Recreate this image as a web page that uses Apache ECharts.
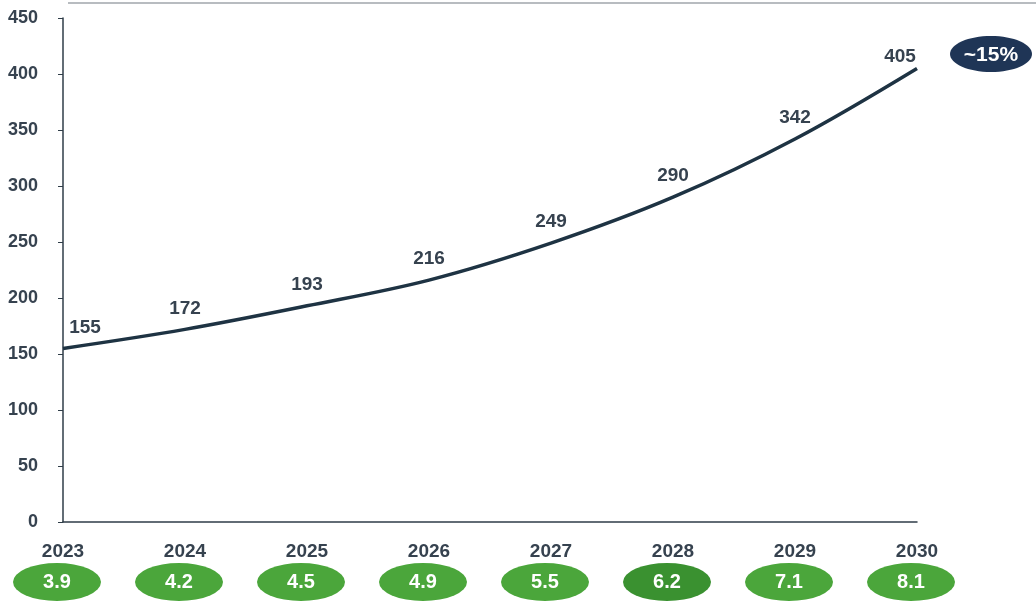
<!DOCTYPE html>
<html>
<head>
<meta charset="utf-8">
<script src="https://cdn.jsdelivr.net/npm/echarts@6/dist/echarts.min.js"></script>
<style>
  html, body { margin: 0; padding: 0; background: #ffffff; }
  #chart { width: 1036px; height: 604px; }
</style>
</head>
<body>
<div id="chart"></div>
<script>
// Market size by year, with yearly values shown in pills under each year
const years = ['2023', '2024', '2025', '2026', '2027', '2028', '2029', '2030'];
const marketValues = [155, 172, 193, 216, 249, 290, 342, 405];
const pillValues = ['3.9', '4.2', '4.5', '4.9', '5.5', '6.2', '7.1', '8.1'];
const growthTag = '~15%';
const yTicks = { min: 0, max: 450, interval: 50 };

const FONT = '"Liberation Sans", Arial, sans-serif';
const TEXT = '#36424f';
const LINE = '#1e3343';
const GREEN = '#4ba63b';
const GREEN_DARK = '#3a9130';
const NAVY = '#1f3556';
const ELLIPSE = 'path://M0 50A100 50 0 1 0 200 50A100 50 0 1 0 0 50Z';

const chart = echarts.init(document.getElementById('chart'), null, { renderer: 'canvas' });

const lineData = marketValues.map((v, i) => {
  const item = { value: v };
  if (i === 0) item.label = { offset: [22, 0] };
  if (i === marketValues.length - 1) item.label = { offset: [-17, 9] };
  return item;
});

// one oval per year in the strip below the axis
const pillData = pillValues.map((v, i) => ({
  value: [i, 0.5],
  itemStyle: { color: i === 5 ? GREEN_DARK : GREEN, opacity: 1 }
}));

chart.setOption({
  animation: false,
  backgroundColor: '#ffffff',
  grid: [
    { left: 63, right: 119, top: 18, bottom: 82, containLabel: false },
    { left: 63, right: 119, top: 563, height: 38, containLabel: false }
  ],
  xAxis: [
    {
      type: 'category',
      data: years,
      boundaryGap: false,
      axisLine: { lineStyle: { color: '#2f3d48', width: 1.5 } },
      axisTick: { show: false },
      axisLabel: {
        color: TEXT, fontFamily: FONT, fontWeight: 'bold', fontSize: 19,
        margin: 20
      },
      splitLine: { show: false }
    },
    {
      type: 'category',
      gridIndex: 1,
      data: years,
      boundaryGap: false,
      show: false
    }
  ],
  yAxis: [
    {
      type: 'value',
      min: yTicks.min,
      max: yTicks.max,
      interval: yTicks.interval,
      axisLine: { show: true, lineStyle: { color: '#2f3d48', width: 1.5 } },
      axisTick: { show: true, inside: false, length: 5, lineStyle: { color: '#2f3d48' } },
      axisLabel: {
        color: TEXT, fontFamily: FONT, fontWeight: 'bold', fontSize: 18, margin: 25
      },
      splitLine: { show: false }
    },
    {
      type: 'value',
      gridIndex: 1,
      min: 0,
      max: 1,
      show: false
    }
  ],
  series: [
    {
      type: 'line',
      data: lineData,
      smooth: 0.35,
      symbol: 'circle',
      symbolSize: 1,
      showSymbol: true,
      itemStyle: { color: 'rgba(0,0,0,0)' },
      lineStyle: { color: LINE, width: 3.5 },
      label: {
        show: true,
        position: 'top',
        distance: 11,
        color: TEXT,
        fontFamily: FONT,
        fontWeight: 'bold',
        fontSize: 19
      },
      z: 3
    },
    {
      type: 'scatter',
      xAxisIndex: 1,
      yAxisIndex: 1,
      data: pillData,
      symbol: ELLIPSE,
      symbolSize: [88, 38],
      symbolOffset: [-6, 0],
      itemStyle: { opacity: 1 },
      label: {
        show: true,
        position: 'inside',
        formatter: (p) => pillValues[p.dataIndex],
        color: '#ffffff',
        fontFamily: FONT,
        fontWeight: 'bold',
        fontSize: 20
      },
      emphasis: { disabled: true }
    }
  ],
  graphic: [
    {
      type: 'line',
      shape: { x1: 68, y1: 3, x2: 1036, y2: 3 },
      style: { stroke: '#a0a6ab', lineWidth: 1.5 }
    },
    {
      type: 'ellipse',
      shape: { cx: 991, cy: 54, rx: 41, ry: 18 },
      style: { fill: NAVY }
    },
    {
      type: 'text',
      style: {
        x: 991, y: 55, text: growthTag, align: 'center', verticalAlign: 'middle',
        fill: '#ffffff', font: 'bold 21px ' + FONT
      }
    }
  ]
});
</script>
</body>
</html>
